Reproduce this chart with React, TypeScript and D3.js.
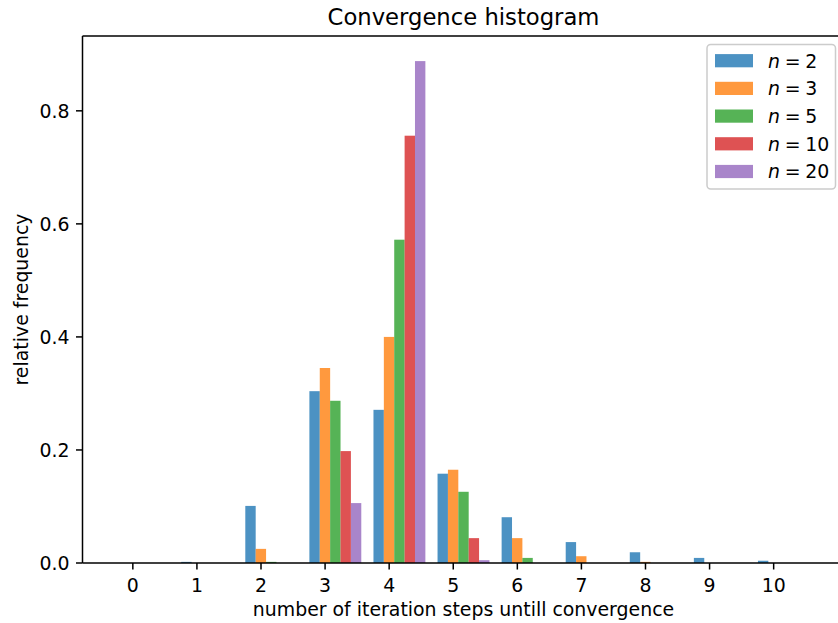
import React from "react";
import * as d3 from "d3";

const categories = [0, 1, 2, 3, 4, 5, 6, 7, 8, 9, 10];
const seriesNames = ["2", "3", "5", "10", "20"];
const n2 = [0, 0.002, 0.101, 0.304, 0.271, 0.158, 0.081, 0.037, 0.019, 0.009, 0.004];
const n3 = [0, 0, 0.025, 0.345, 0.4, 0.165, 0.044, 0.012, 0.002, 0, 0];
const n5 = [0, 0, 0.002, 0.287, 0.572, 0.126, 0.009, 0, 0, 0, 0];
const n10 = [0, 0, 0, 0.198, 0.756, 0.044, 0, 0, 0, 0, 0];
const n20 = [0, 0, 0, 0.106, 0.888, 0.005, 0, 0, 0, 0, 0];
const seriesValues = [n2, n3, n5, n10, n20];
const yTicks = [0, 0.2, 0.4, 0.6, 0.8];
const colors = ["#1f77b4", "#ff7f0e", "#2ca02c", "#d62728", "#9467bd"];

const W = 838;
const H = 623;
const FONT = "DejaVu Sans, sans-serif";
const FS = 18.9;

export default function App() {
  const left = 82.5;
  const right = 844.5;
  const top = 36;
  const bottom = 563;
  const groupOffset = -0.245;
  const barW = 0.162;
  const nS = seriesValues.length;
  const xMin = categories[0] + groupOffset;
  const xMaxData = categories[categories.length - 1] + groupOffset + barW * nS;
  const pad = (xMaxData - xMin) * 0.05;
  const x = d3.scaleLinear().domain([xMin - pad, xMaxData + pad]).range([left, right]);
  const yMax = (d3.max(seriesValues.flat()) as number) * 1.05;
  const y = d3.scaleLinear().domain([0, yMax]).range([bottom, top]);
  const tickLen = 6.5;

  const legX = 707;
  const legY = 44.5;
  const legW = 128.5;
  const legH = 144.5;
  const rowH = 27.7;

  return (
    <svg width={W} height={H} style={{ position: "absolute", left: 0, top: 0, background: "#fff" }} fontFamily={FONT}>
      <rect x={0} y={0} width={W} height={H} fill="#fff" />
      {seriesValues.map((vals, si) =>
        vals.map((v, ci) => {
          if (v <= 0) return null;
          const x0 = x(categories[ci] + groupOffset + si * barW);
          const x1 = x(categories[ci] + groupOffset + (si + 1) * barW);
          return (
            <rect
              key={`b${si}-${ci}`}
              x={x0}
              y={y(v)}
              width={x1 - x0}
              height={y(0) - y(v)}
              fill={colors[si]}
              fillOpacity={0.8}
            />
          );
        })
      )}
      {/* spines */}
      <line x1={left} x2={left} y1={top} y2={bottom} stroke="#000" strokeWidth={1.5} />
      <line x1={left} x2={right} y1={bottom} y2={bottom} stroke="#000" strokeWidth={1.5} />
      <line x1={left} x2={right} y1={top} y2={top} stroke="#000" strokeWidth={1.5} />
      <line x1={right} x2={right} y1={top} y2={bottom} stroke="#000" strokeWidth={1.5} />
      {/* x ticks */}
      {categories.map((c) => (
        <g key={`xt${c}`}>
          <line x1={x(c)} x2={x(c)} y1={bottom} y2={bottom + tickLen} stroke="#000" strokeWidth={1.5} />
          <text x={x(c)} y={592} textAnchor="middle" fontSize={FS} fill="#000">
            {c}
          </text>
        </g>
      ))}
      {/* y ticks */}
      {yTicks.map((t) => (
        <g key={`yt${t}`}>
          <line x1={left - tickLen} x2={left} y1={y(t)} y2={y(t)} stroke="#000" strokeWidth={1.5} />
          <text x={left - tickLen - 6.5} y={y(t)} dy="0.36em" textAnchor="end" fontSize={FS} fill="#000">
            {t.toFixed(1)}
          </text>
        </g>
      ))}
      <text x={(left + right) / 2} y={25} textAnchor="middle" fontSize={22.7} fill="#000">
        Convergence histogram
      </text>
      <text x={(left + right) / 2} y={616} textAnchor="middle" fontSize={FS} fill="#000">
        number of iteration steps untill convergence
      </text>
      <text
        transform={`translate(28,${(top + bottom) / 2}) rotate(-90)`}
        textAnchor="middle"
        fontSize={FS}
        fill="#000"
      >
        relative frequency
      </text>
      {/* legend */}
      <rect x={legX} y={legY} width={legW} height={legH} rx={3.7} ry={3.7} fill="#fff" fillOpacity={0.8} stroke="#cccccc" strokeWidth={1.5} />
      {seriesNames.map((name, i) => {
        const cy = legY + 16.2 + i * rowH;
        return (
          <g key={`lg${i}`}>
            <rect x={legX + 8} y={cy - 6.6} width={38} height={13.2} fill={colors[i]} fillOpacity={0.8} />
            <text x={legX + 61} y={cy} dy="0.36em" fontSize={FS} fill="#000">
              <tspan fontStyle="italic">n</tspan>
              <tspan>{"\u2005=\u2005" + name}</tspan>
            </text>
          </g>
        );
      })}
    </svg>
  );
}
